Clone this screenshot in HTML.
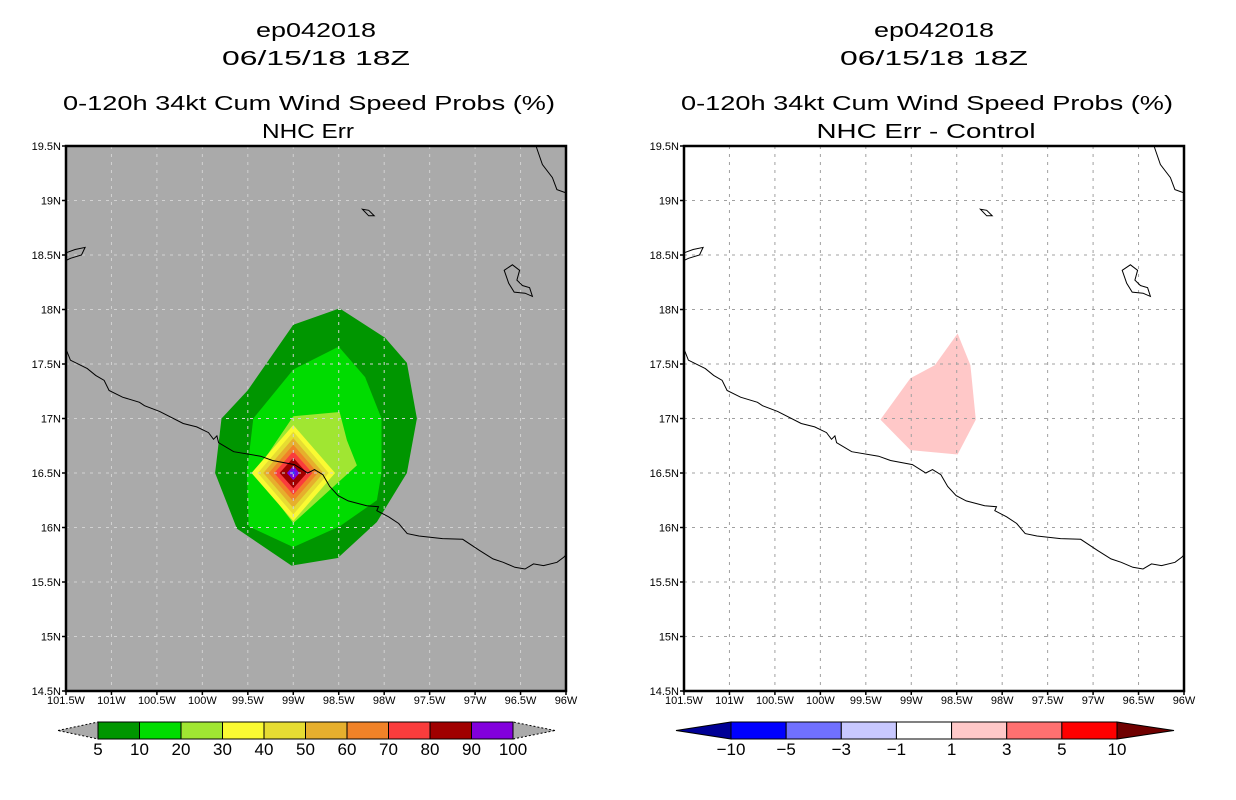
<!DOCTYPE html>
<html><head><meta charset="utf-8"><style>
html,body{margin:0;padding:0;background:#fff;}
svg{display:block;font-family:"Liberation Sans",sans-serif;}
</style></head><body>
<svg id="chart" width="1236" height="800" viewBox="0 0 1236 800" xmlns="http://www.w3.org/2000/svg">
<g font-size="20" text-anchor="middle" fill="#000">
<text x="316" y="37" textLength="120" lengthAdjust="spacingAndGlyphs">ep042018</text>
<text x="316" y="65" textLength="188" lengthAdjust="spacingAndGlyphs">06/15/18 18Z</text>
<text x="309" y="110" textLength="492" lengthAdjust="spacingAndGlyphs">0-120h 34kt Cum Wind Speed Probs (%)</text>
<text x="308" y="138" textLength="92" lengthAdjust="spacingAndGlyphs">NHC Err</text>
</g>
<g font-size="20" text-anchor="middle" fill="#000">
<text x="934" y="37" textLength="120" lengthAdjust="spacingAndGlyphs">ep042018</text>
<text x="934" y="65" textLength="188" lengthAdjust="spacingAndGlyphs">06/15/18 18Z</text>
<text x="927" y="110" textLength="492" lengthAdjust="spacingAndGlyphs">0-120h 34kt Cum Wind Speed Probs (%)</text>
<text x="926" y="138" textLength="219" lengthAdjust="spacingAndGlyphs">NHC Err - Control</text>
</g>
<g id="left"></g>
<g id="right"></g>
<g id="cbL"></g>
<g id="cbR"></g>
</svg>
<script>
// ---- data ----
const lonTicks = [-101.5,-101,-100.5,-100,-99.5,-99,-98.5,-98,-97.5,-97,-96.5,-96];
const lonTickLabels = ["101.5W","101W","100.5W","100W","99.5W","99W","98.5W","98W","97.5W","97W","96.5W","96W"];
const latTicks = [14.5,15,15.5,16,16.5,17,17.5,18,18.5,19,19.5];
const latTickLabels = ["14.5N","15N","15.5N","16N","16.5N","17N","17.5N","18N","18.5N","19N","19.5N"];
const prob5 = [[-98.49,18.01],[-99.0,17.86],[-99.5,17.26],[-99.79,17.0],[-99.86,16.5],[-99.62,15.99],[-99.02,15.65],[-98.51,15.72],[-98.08,16.05],[-97.75,16.5],[-97.64,17.0],[-97.75,17.51],[-97.99,17.74]];
const prob10 = [[-98.5,17.66],[-99.0,17.45],[-99.44,17.0],[-99.51,16.5],[-99.49,16.01],[-99.0,15.82],[-98.49,16.01],[-98.08,16.25],[-98.03,16.5],[-98.03,17.0],[-98.21,17.38]];
const prob20 = [[-98.49,17.06],[-99.0,17.02],[-99.42,16.5],[-99.0,16.04],[-98.3,16.57],[-98.41,16.8]];
const stormCenter = [-99.0,16.5];
const diamondLonRadius = [0.46,0.39,0.33,0.27,0.21,0.15,0.07];
const diamondLatRadius = [0.44,0.38,0.32,0.26,0.20,0.14,0.065];
const diffPoly = [[-99.34,16.99],[-99.01,17.37],[-98.74,17.49],[-98.49,17.78],[-98.35,17.49],[-98.29,16.99],[-98.49,16.67],[-99.01,16.71]];
const coast = [[-101.5,17.63],[-101.488,17.612],[-101.452,17.535],[-101.266,17.458],[-101.173,17.395],[-101.081,17.35],[-101.026,17.257],[-100.877,17.195],[-100.692,17.149],[-100.636,17.117],[-100.47,17.065],[-100.211,16.954],[-100.062,16.923],[-99.932,16.871],[-99.877,16.809],[-99.84,16.84],[-99.821,16.778],[-99.655,16.695],[-99.359,16.654],[-99.229,16.615],[-98.988,16.577],[-98.84,16.5],[-98.766,16.531],[-98.674,16.484],[-98.599,16.376],[-98.507,16.293],[-98.396,16.244],[-98.192,16.2],[-98.062,16.191],[-98.081,16.154],[-97.951,16.098],[-97.84,16.037],[-97.747,15.944],[-97.618,15.922],[-97.358,15.898],[-97.136,15.892],[-96.951,15.79],[-96.803,15.712],[-96.691,15.681],[-96.562,15.635],[-96.451,15.619],[-96.358,15.666],[-96.247,15.65],[-96.099,15.681],[-96.025,15.727],[-96.0,15.75]];
const coastNE = [[-96.33,19.5],[-96.26,19.33],[-96.15,19.21],[-96.1,19.1],[-96.0,19.07]];
const lakeE = [[-96.68,18.36],[-96.59,18.41],[-96.51,18.36],[-96.54,18.27],[-96.48,18.22],[-96.40,18.20],[-96.37,18.12],[-96.45,18.15],[-96.57,18.16],[-96.63,18.24]];
const islandN = [[-98.24,18.92],[-98.17,18.91],[-98.11,18.86],[-98.17,18.86]];
const lakeW = [[-101.5,18.52],[-101.40,18.55],[-101.29,18.57],[-101.33,18.50],[-101.45,18.47],[-101.5,18.45]];
const probLevels = ["5","10","20","30","40","50","60","70","80","90","100"];
const probColors = ["#009600","#00dc00","#a0e632","#fafa32","#e6dc32","#e6af2d","#f08228","#fa3c3c","#a00000","#8200dc"];
const diffLevels = ["-10","-5","-3","-1","1","3","5","10"];
const diffColors = ["#000096","#0000ff","#7070ff","#c8c8ff","#ffffff","#ffc8c8","#ff7070","#ff0000","#700000"];

const NS="http://www.w3.org/2000/svg";
function mk(tag,attrs,parent){const e=document.createElementNS(NS,tag);for(const k in attrs)e.setAttribute(k,attrs[k]);parent.appendChild(e);return e;}
const W=500,H=545,TOP=146;
function xs(x0){return lon=>x0+(lon+101.5)/5.5*W;}
function ys(lat){return TOP+(19.5-lat)/5*H;}
function pts(arr,x){return arr.map(p=>x(p[0]).toFixed(1)+","+ys(p[1]).toFixed(1)).join(" ");}

function drawMap(g,x0,bg,gridColor,isLeft){
  const x=xs(x0);
  const r=mk('rect',{x:x0,y:TOP,width:W,height:H,fill:bg},g);
  
  
  if(isLeft){
    const layers=[prob5,prob10,prob20];
    layers.forEach((poly,i)=>{
      const p=mk('polygon',{points:pts(poly,x),fill:probColors[i]},g);
      
      
    });
    diamondLonRadius.forEach((rl,i)=>{
      const rt=diamondLatRadius[i],c=stormCenter;
      const d=[[c[0],c[1]+rt],[c[0]+rl,c[1]],[c[0],c[1]-rt],[c[0]-rl,c[1]]];
      const p=mk('polygon',{points:pts(d,x),fill:probColors[i+3]},g);
      
      
    });
    const s=mk('text',{x:x(stormCenter[0]),y:ys(stormCenter[1])+4,'text-anchor':'middle','font-size':'11',fill:'#3040ff'},g);
    s.textContent='✶';
    
    
  } else {
    const p=mk('polygon',{points:pts(diffPoly,x),fill:diffColors[5]},g);
    
    
  }
  // grid
  lonTicks.slice(1,-1).forEach(l=>{
    const ln=mk('line',{x1:x(l),x2:x(l),y1:TOP,y2:TOP+H,stroke:gridColor,'stroke-width':1,'stroke-dasharray':'3,5'},g);
    
    
  });
  latTicks.slice(1,-1).forEach(l=>{
    const ln=mk('line',{x1:x0,x2:x0+W,y1:ys(l),y2:ys(l),stroke:gridColor,'stroke-width':1,'stroke-dasharray':'3,5'},g);
    
    
  });
  // coast
  [[coast,false],[coastNE,false],[lakeE,true],[islandN,true],[lakeW,true]].forEach(([c,closed])=>{
    const e=mk(closed?'polygon':'polyline',{points:pts(c,x),fill:'none',stroke:'#000','stroke-width':1},g);
    
    
  });
  const fr=mk('rect',{x:x0,y:TOP,width:W,height:H,fill:'none',stroke:'#000','stroke-width':2.5},g);
  
  
  lonTicks.forEach((l,i)=>{
    mk('line',{x1:x(l),x2:x(l),y1:TOP+H,y2:TOP+H+4,stroke:'#000','stroke-width':1.5},g);
    const t=mk('text',{x:x(l),y:TOP+H+13,'text-anchor':'middle','font-size':'11'},g);
    t.textContent=lonTickLabels[i];
    
    
  });
  latTicks.forEach((l,i)=>{
    mk('line',{x1:x0-4,x2:x0,y1:ys(l),y2:ys(l),stroke:'#000','stroke-width':1.5},g);
    const t=mk('text',{x:x0-5,y:ys(l)+4,'text-anchor':'end','font-size':'11'},g);
    t.textContent=latTickLabels[i];
    
    
  });
}
drawMap(document.getElementById('left'),66,'#aaaaaa','#d2d2d2',true);
drawMap(document.getElementById('right'),684,'#ffffff','#a0a0a0',false);

function drawBar(g,x0,x1,tipL,tipR,colors,labels,leftTri,rightTri){
  const y0=722,h=17,n=colors.length,w=(x1-x0)/n;
  const lt=mk('polygon',{points:`${tipL},${y0+h/2} ${x0},${y0} ${x0},${y0+h}`,fill:leftTri,stroke:'#000','stroke-width':1,'stroke-dasharray':leftTri==='#aaaaaa'?'2,2':''},g);
  
  
  const rt=mk('polygon',{points:`${tipR},${y0+h/2} ${x1},${y0} ${x1},${y0+h}`,fill:rightTri,stroke:'#000','stroke-width':1,'stroke-dasharray':rightTri==='#aaaaaa'?'2,2':''},g);
  
  
  colors.forEach((c,i)=>{
    const r=mk('rect',{x:x0+i*w,y:y0,width:w,height:h,fill:c,stroke:'#000','stroke-width':1},g);
    
    
  });
  labels.forEach((lb,i)=>{
    const t=mk('text',{x:x0+i*w,y:755,'text-anchor':'middle','font-size':'17'},g);
    t.textContent=lb.replace('-','\u2212');
    
    
  });
}
drawBar(document.getElementById('cbL'),98,513,58,555,probColors,probLevels,'#aaaaaa','#aaaaaa');
drawBar(document.getElementById('cbR'),731,1117,676,1174,diffColors.slice(1,-1),diffLevels,diffColors[0],diffColors[8]);
</script>
</body></html>
